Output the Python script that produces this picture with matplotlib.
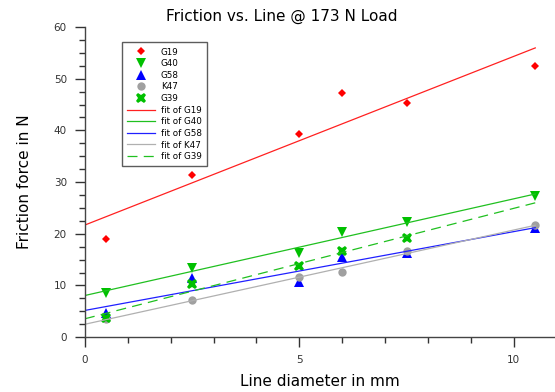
import numpy as np
import matplotlib
matplotlib.use('Agg')
import matplotlib.pyplot as plt

# line diameters (mm)
x6 = [0.5, 2.5, 5, 6, 7.5, 10.5]
x5 = [0.5, 2.5, 5, 6, 7.5]

g19 = [19.0, 31.3, 39.4, 47.2, 45.3, 52.4]
g40 = [8.5, 13.4, 16.3, 20.4, 22.3, 27.3]
g58 = [4.7, 11.4, 10.7, 15.5, 16.3, 21.2]
k47 = [3.5, 7.2, 11.6, 12.6, 16.7, 21.7]
g39 = [3.7, 10.3, 13.8, 16.7, 19.2]

series = [
    ('G19', x6, g19, 'D', '#ff0000', 4.5, '-'),
    ('G40', x6, g40, 'v', '#00c000', 6.5, '-'),
    ('G58', x6, g58, '^', '#0000ff', 6.5, '-'),
    ('K47', x6, k47, 'o', '#a0a0a0', 6, '-'),
    ('G39', x5, g39, 'X', '#00c000', 7.5, (0, (8, 5))),
]
line_cols = {'G19': '#ff2020', 'G40': '#20c020', 'G58': '#2020ff',
             'K47': '#b0b0b0', 'G39': '#20c020'}

fig = plt.figure(figsize=(5.55, 3.92), dpi=100)
ax = fig.add_axes([0.153, 0.140, 0.847, 0.791])

handles = []
for name, xs, ys, mk, col, ms, ls in series:
    h, = ax.plot(xs, ys, linestyle='none', marker=mk, color=col, markersize=ms,
                 markeredgewidth=0, label=name)
    handles.append(h)

xfit = np.array([0, 10.5])
for name, xs, ys, mk, col, ms, ls in series:
    p = np.polyfit(xs, ys, 1)
    h, = ax.plot(xfit, np.polyval(p, xfit), color=line_cols[name], lw=0.9,
                 linestyle=ls, label='fit of ' + name)
    handles.append(h)

ax.set_xlim(0, 10.96)
ax.set_ylim(0, 60)
ax.set_xticks([0, 5, 10])
ax.set_xticks(np.arange(0, 11, 1), minor=True)
ax.set_yticks(np.arange(0, 61, 10))
ax.set_yticks(np.arange(0, 61, 2.5), minor=True)
for s in ['top', 'right']:
    ax.spines[s].set_visible(False)
for s in ['left', 'bottom']:
    ax.spines[s].set_color('#444444')
    ax.spines[s].set_linewidth(1.0)
ax.tick_params(which='major', direction='out', length=7, width=1, color='#333333',
               labelsize=7.5, labelcolor='#333333', pad=6)
ax.tick_params(which='minor', direction='out', length=4, width=1, color='#333333')

fig.suptitle('Friction vs. Line @ 173 N Load', fontsize=11, x=0.507, y=0.978,
             va='top')
ax.set_xlabel('Line diameter in mm', fontsize=11, labelpad=6)
ax.set_ylabel('Friction force in N', fontsize=11, labelpad=16)

leg = ax.legend(handles=handles, loc='upper left', bbox_to_anchor=(0.07, 0.965),
                fontsize=6.3, frameon=True, fancybox=False, edgecolor='#333333',
                handlelength=3.2, labelspacing=0.3, borderpad=0.6, handletextpad=0.6)
leg.get_frame().set_linewidth(1.0)

fig.savefig('out.png', dpi=100)
